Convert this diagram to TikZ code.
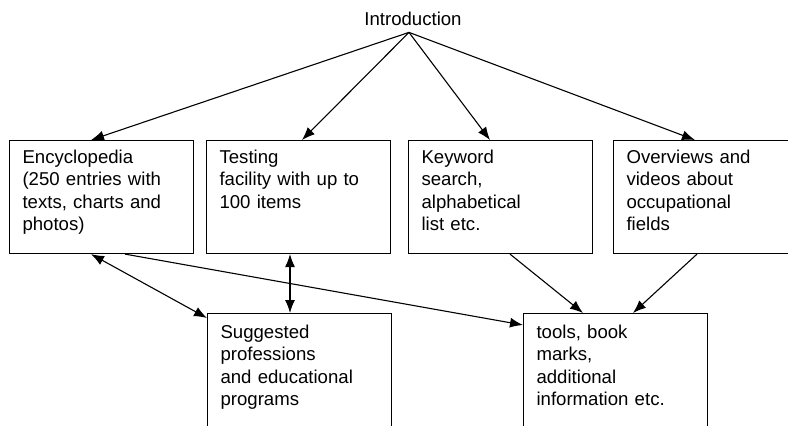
\documentclass[tikz,border=0pt]{standalone}
\usepackage{fontspec}
\setmainfont{Liberation Sans}
\usetikzlibrary{arrows.meta}

\begin{document}
\begin{tikzpicture}[
    x=1pt, y=-1pt,
    box/.style={
        rectangle,
        draw=black,
        line width=1.1pt,
        anchor=north west,
        align=left,
        text width=158pt,
        inner xsep=13pt,
        inner ysep=0pt,
        text height=23pt,
        text depth=90pt,
        font=\fontsize{18.6}{22.3}\selectfont
    },
    lowbox/.style={
        box,
        text height=25pt,
        text depth=100pt
    },
    arrow/.style={-{Latex[length=13pt,width=10pt]}, line width=1.1pt},
    dblarrow/.style={{Latex[length=13pt,width=10pt]}-{Latex[length=13pt,width=10pt]}, line width=1.1pt}
]

\useasboundingbox (0,0) rectangle (788,426);
\clip (0,0) rectangle (788,426);

\node[anchor=base, inner xsep=0pt, inner ysep=7pt, font=\fontsize{18.6}{22.3}\selectfont] (intro) at (413,25) {Introduction};

\node[box] (enc) at (9,140) {Encyclopedia\\(250 entries with\\texts, charts and\\photos)};
\node[box] (test) at (206,140) {Testing\\facility with up to\\100 items};
\node[box] (key) at (408,140) {Keyword\\search,\\alphabetical\\list etc.};
\node[box] (over) at (613,140) {Overviews and\\videos about\\occupational\\fields};

\node[lowbox] (sugg) at (207,313) {Suggested\\professions\\and educational\\programs};
\node[lowbox] (tools) at (523,313) {tools, book\\marks,\\additional\\information etc.};

\draw[arrow] ([xshift=-4pt]intro.south) -- ([xshift=82pt]enc.north west);
\draw[arrow] ([xshift=-4pt]intro.south) -- ([xshift=96pt]test.north west);
\draw[arrow] ([xshift=-4pt]intro.south) -- ([xshift=82pt]key.north west);
\draw[arrow] ([xshift=-4pt]intro.south) -- ([xshift=82pt]over.north west);

\draw[dblarrow] ([xshift=82pt]enc.south west) -- ([yshift=-5pt]sugg.north west);
\draw[dblarrow] ([xshift=84pt]test.south west) -- ([xshift=83pt]sugg.north west);
\draw[arrow] ([xshift=116pt]enc.south west) -- ([yshift=-12pt]tools.north west);
\draw[arrow] ([xshift=102pt]key.south west) -- ([xshift=60pt]tools.north west);
\draw[arrow] ([xshift=84pt]over.south west) -- ([xshift=110pt]tools.north west);

\end{tikzpicture}
\end{document}
